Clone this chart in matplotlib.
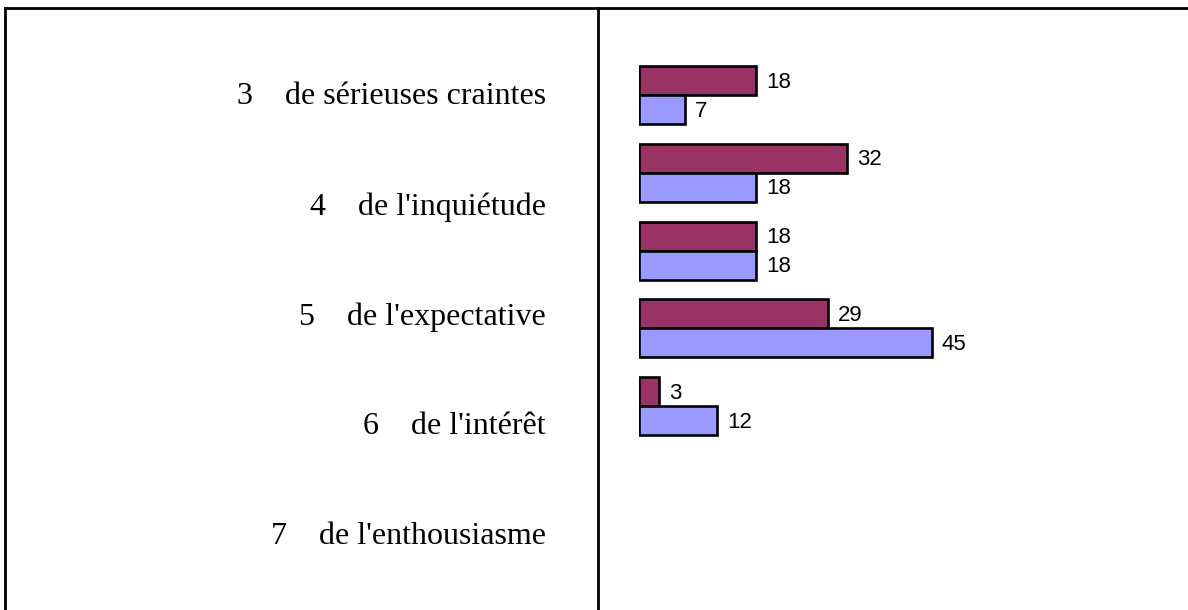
import matplotlib
matplotlib.use("Agg")
import matplotlib.pyplot as plt
from matplotlib.lines import Line2D

numbers = ["3", "4", "5", "6", "7"]
labels = ["de sérieuses craintes", "de l'inquiétude", "de l'expectative",
          "de l'intérêt", "de l'enthousiasme"]
serie_a = [18, 32, 18, 29, 3]
serie_b = [7, 18, 18, 45, 12]

W, H = 1188, 610
fig = plt.figure(figsize=(W / 100, H / 100), dpi=100)

# cadre
lw = 2.0
fig.add_artist(Line2D([5 / W, 1], [1 - 7.5 / H, 1 - 7.5 / H], color="black", lw=lw))
fig.add_artist(Line2D([5 / W, 5 / W], [0, 1 - 7.5 / H], color="black", lw=lw))
fig.add_artist(Line2D([598 / W, 598 / W], [0, 1 - 7.5 / H], color="black", lw=lw))

# libellés à gauche
for i, (n, t) in enumerate(zip(numbers, labels)):
    y = 1 - (97 + 110 * i) / H
    fig.text(546 / W, y, n + "    " + t, ha="right", va="center",
             fontsize=23, family="Liberation Serif")

# barres
x0 = 639
ax = fig.add_axes([x0 / W, 0, 1 - x0 / W, 1])
ax.set_xlim(0, (W - x0) / 6.5)
ax.set_ylim((H - 95) / 77.75, -95 / 77.75)
ax.axis("off")

h = 29 / 77.75
idx = list(range(len(serie_a)))
ax.barh([i - h / 2 for i in idx], serie_a, height=h, color="#993366",
        edgecolor="black", linewidth=1.9)
ax.barh([i + h / 2 for i in idx], serie_b, height=h, color="#9999FF",
        edgecolor="black", linewidth=1.9)
for i in idx:
    ax.text(serie_a[i] + 1.6, i - h / 2 + 0.02, str(serie_a[i]), va="center", ha="left",
            fontsize=16, family="Liberation Sans")
    ax.text(serie_b[i] + 1.6, i + h / 2 + 0.02, str(serie_b[i]), va="center", ha="left",
            fontsize=16, family="Liberation Sans")

fig.savefig("out.png", dpi=100)
